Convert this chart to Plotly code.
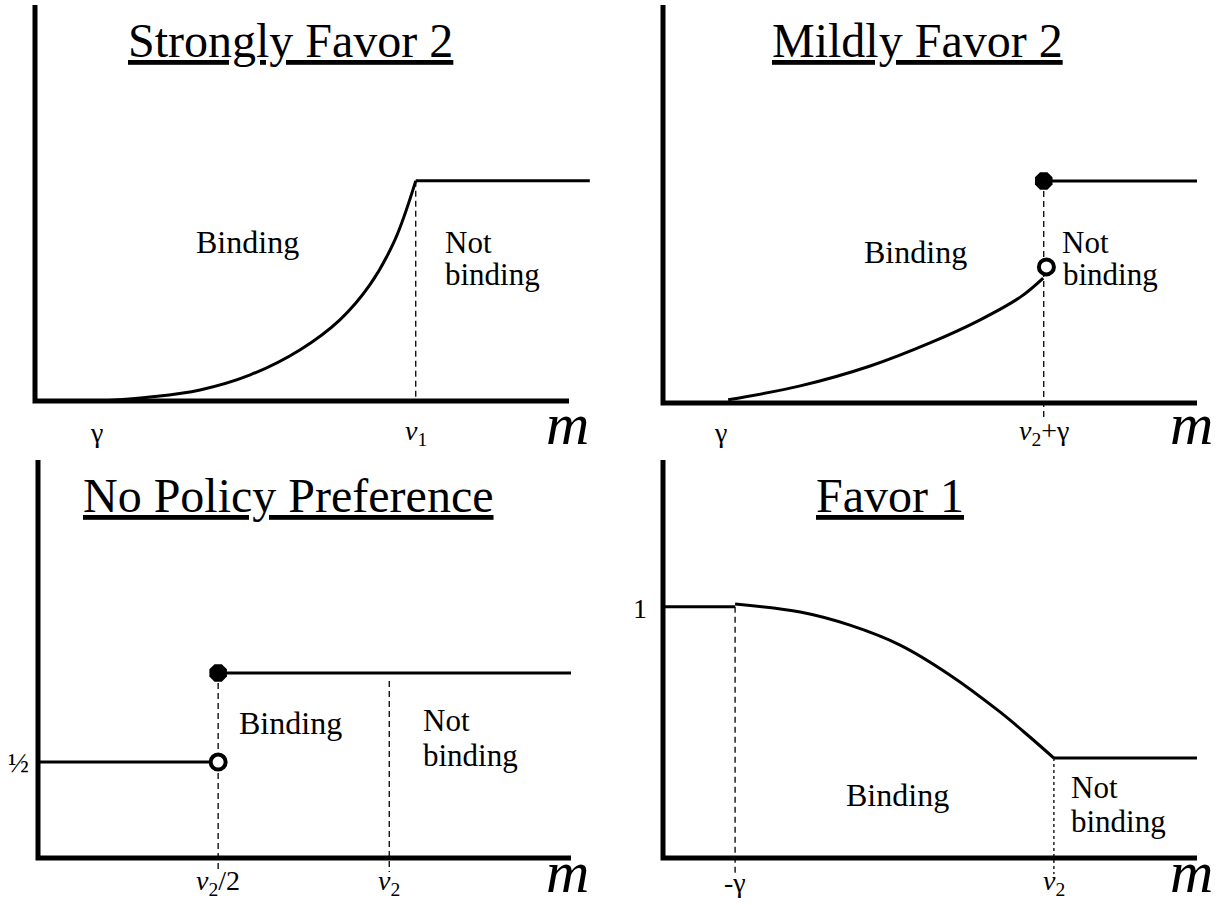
import plotly.graph_objects as go

# ---------------- data (abstract units: x-axis length = 10, y-axis height = 1) ----------------
# Panel 1: Strongly Favor 2
p1_curve_m = [1.22, 2.15, 3.09, 4.03, 4.96, 5.71, 6.27, 6.74, 7.13]
p1_curve_y = [0.0, 0.010, 0.028, 0.066, 0.129, 0.205, 0.293, 0.407, 0.556]
p1_flat_m = [7.13, 10.39]
p1_flat_y = [0.556, 0.556]
p1_gamma = 1.16
p1_v1 = 7.13

# Panel 2: Mildly Favor 2
p2_curve_m = [1.22, 2.57, 3.88, 5.00, 5.94, 6.69, 7.12]
p2_curve_y = [0.008, 0.043, 0.093, 0.151, 0.209, 0.266, 0.314]
p2_open_m = [7.18]
p2_open_y = [0.342]
p2_filled_m = [7.13]
p2_filled_y = [0.558]
p2_flat_m = [7.13, 10.0]
p2_flat_y = [0.558, 0.558]
p2_gamma = 1.07
p2_v2g = 7.13

# Panel 3: No Policy Preference
p3_half = 0.241
p3_low_m = [0.0, 3.38]
p3_low_y = [p3_half, p3_half]
p3_high_m = [3.38, 10.0]
p3_high_y = [0.465, 0.465]
p3_v2half = 3.38
p3_v2 = 6.59

# Panel 4: Favor 1
p4_one = 0.631
p4_left_m = [0.0, 1.35]
p4_left_y = [p4_one, p4_one]
p4_curve_m = [1.35, 2.57, 3.50, 4.44, 5.37, 6.31, 6.87, 7.32]
p4_curve_y = [0.638, 0.618, 0.585, 0.535, 0.460, 0.367, 0.304, 0.251]
p4_flat_m = [7.32, 10.0]
p4_flat_y = [0.251, 0.251]
p4_neg_gamma = 1.35
p4_v2 = 7.32

titles = ["Strongly Favor 2", "Mildly Favor 2", "No Policy Preference", "Favor 1"]

# ---------------- layout geometry (pixels) ----------------
W, H = 1221, 905
FONT = "Liberation Serif, Times New Roman, serif"
panels = {
    1: dict(ox=35, oy=401, sx=53.4, sy=396, box=(0, 610, 0, 452)),
    2: dict(ox=663, oy=403, sx=53.4, sy=398, box=(610, 1221, 0, 452)),
    3: dict(ox=38, oy=858, sx=53.3, sy=398, box=(0, 610, 452, 905)),
    4: dict(ox=663, oy=858, sx=53.4, sy=398, box=(610, 1221, 452, 905)),
}

def px(x):
    return x / W

def py(y):
    return 1 - y / H

fig = go.Figure()
layout_axes = {}
for i, g in panels.items():
    x0, x1, y0, y1 = g["box"]
    xr = [(x0 - g["ox"]) / g["sx"], (x1 - g["ox"]) / g["sx"]]
    yr = [(g["oy"] - y1) / g["sy"], (g["oy"] - y0) / g["sy"]]
    sfx = "" if i == 1 else str(i)
    layout_axes["xaxis" + sfx] = dict(domain=[x0 / W, x1 / W], range=xr, visible=False,
                                      fixedrange=True, anchor="y" + sfx)
    layout_axes["yaxis" + sfx] = dict(domain=[1 - y1 / H, 1 - y0 / H], range=yr, visible=False,
                                      fixedrange=True, anchor="x" + sfx)

def ax(i):
    s = "" if i == 1 else str(i)
    return dict(xaxis="x" + s, yaxis="y" + s)

def line(i, xs, ys, width=3, dash="solid", shape="linear"):
    fig.add_trace(go.Scatter(x=xs, y=ys, mode="lines", showlegend=False, hoverinfo="skip",
                             line=dict(color="black", width=width, dash=dash, shape=shape),
                             **ax(i)))

def dot(i, xs, ys, filled=True):
    if filled:
        m = dict(symbol="octagon", size=19, color="black", line=dict(width=0))
    else:
        m = dict(symbol="circle", size=15, color="white", line=dict(width=4, color="black"))
    fig.add_trace(go.Scatter(x=xs, y=ys, mode="markers", showlegend=False, hoverinfo="skip",
                             marker=m, cliponaxis=False, **ax(i)))

DASH = "6px,4px"

# L-shaped axes
for i in panels:
    line(i, [0, 0, 10], [1, 0, 0], width=5)

# Panel 1
line(1, p1_curve_m, p1_curve_y, width=3, shape="spline")
line(1, p1_flat_m, p1_flat_y, width=3)
line(1, [p1_v1, p1_v1], [p1_flat_y[0], 0], width=1.3, dash=DASH)

# Panel 2
line(2, [p2_v2g, p2_v2g], [p2_flat_y[0], -0.04], width=1.3, dash=DASH)
line(2, p2_curve_m, p2_curve_y, width=3, shape="spline")
line(2, p2_flat_m, p2_flat_y, width=3)
dot(2, p2_filled_m, p2_filled_y, True)
dot(2, p2_open_m, p2_open_y, False)

# Panel 3
line(3, [p3_v2half, p3_v2half], [p3_high_y[0], -0.035], width=1.3, dash=DASH)
line(3, [p3_v2, p3_v2], [p3_high_y[0] - 0.02, -0.035], width=1.3, dash=DASH)
line(3, p3_low_m, p3_low_y, width=3)
line(3, p3_high_m, p3_high_y, width=3)
dot(3, [p3_v2half], [p3_high_y[0]], True)
dot(3, [p3_v2half], [p3_half], False)

# Panel 4
line(4, [p4_neg_gamma, p4_neg_gamma], [p4_one, -0.04], width=1.3, dash=DASH)
line(4, [p4_v2, p4_v2], [p4_flat_y[0], -0.04], width=1.3, dash="dot")
line(4, p4_left_m, p4_left_y, width=3)
line(4, p4_curve_m, p4_curve_y, width=3, shape="spline")
line(4, p4_flat_m, p4_flat_y, width=3)

ann = []

def text(t, x, y, size, xanchor="center", xref="paper"):
    ann.append(dict(text=t, x=x if xref != "paper" else px(x), y=py(y), xref=xref, yref="paper",
                    xanchor=xanchor, yanchor="middle", showarrow=False,
                    font=dict(family=FONT, size=size, color="black")))

# Titles
text("<u>%s</u>" % titles[0], 290, 40, 48)
text("<u>%s</u>" % titles[1], 917, 40, 48)
text("<u>%s</u>" % titles[2], 288, 495, 48)
text("<u>%s</u>" % titles[3], 890, 495, 48)

# Region labels
text("Binding", 248, 242, 32)
text("Not", 443, 242, 31, "left")
text("binding", 443, 274, 31, "left")
text("Binding", 915, 252, 32)
text("Not", 1060, 242, 31, "left")
text("binding", 1061, 274, 31, "left")
text("Binding", 290, 723, 32)
text("Not", 421, 720, 31, "left")
text("binding", 421, 755, 31, "left")
text("Binding", 897, 795, 32)
text("Not", 1069, 787, 31, "left")
text("binding", 1069, 821, 31, "left")

# Tick labels
text("γ", p1_gamma, 433, 28, xref="x")
text("<i>v</i><sub>1</sub>", p1_v1, 433, 28, xref="x")
text("γ", p2_gamma, 433, 28, xref="x2")
text("<i>v</i><sub>2</sub>+γ", p2_v2g, 433, 28, xref="x2")
text("<i>v</i><sub>2</sub>/2", p3_v2half, 882, 28, xref="x3")
text("<i>v</i><sub>2</sub>", p3_v2, 882, 28, xref="x3")
text("-γ", p4_neg_gamma, 882, 28, xref="x4")
text("<i>v</i><sub>2</sub>", p4_v2, 882, 28, xref="x4")
text("½", 18, 762, 28)
text("1", 640, 608, 28)

# m axis labels
text("<i>m</i>", 567, 424, 60)
text("<i>m</i>", 1191, 424, 60)
text("<i>m</i>", 567, 872, 60)
text("<i>m</i>", 1191, 872, 60)

fig.update_layout(width=W, height=H, margin=dict(l=0, r=0, t=0, b=0),
                  paper_bgcolor="white", plot_bgcolor="white",
                  annotations=ann, **layout_axes)

fig.write_html("out.html", config={"displayModeBar": False},
               post_script="document.body.style.margin='0';document.body.style.overflow='hidden';")
